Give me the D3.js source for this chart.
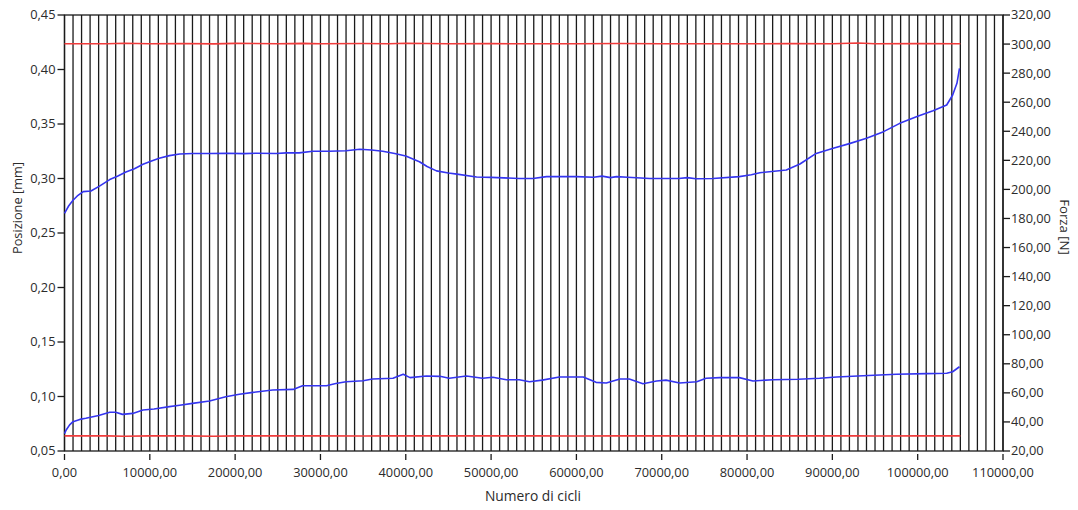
<!DOCTYPE html>
<html>
<head>
<meta charset="utf-8">
<script src="https://cdn.jsdelivr.net/npm/d3@7"></script>
<style>
  html, body { margin: 0; padding: 0; background: #fff; }
  svg { display: block; }
  text { font-family: "Open Sans", "DejaVu Sans", sans-serif; fill: #2b2b2b; }
</style>
</head>
<body>
<svg id="chart" width="1078" height="510"></svg>
<script>
// ---------- DATA ----------
const xTicks = [0, 10000, 20000, 30000, 40000, 50000, 60000, 70000, 80000, 90000, 100000, 110000];
const leftTicks = [0.05, 0.10, 0.15, 0.20, 0.25, 0.30, 0.35, 0.40, 0.45];
const rightTicks = [20, 40, 60, 80, 100, 120, 140, 160, 180, 200, 220, 240, 260, 280, 300, 320];

// Posizione max [mm]
const posMaxCycles = [0, 500, 1000, 1500, 2200, 3100, 4100, 5300, 6200, 7200, 8200, 9200, 10200, 11100, 12300, 13500, 15000, 17000, 19000, 21000, 22500, 24800, 26000, 27500, 29100, 31000, 33000, 34600, 36000, 37300, 38700, 40000, 41600, 42500, 43600, 45000, 46000, 48300, 50000, 53300, 54900, 56500, 60000, 62000, 63000, 64000, 64700, 66000, 68600, 72000, 73000, 74000, 76000, 79100, 80500, 81500, 84600, 86200, 88100, 90100, 92000, 94000, 96000, 97900, 100000, 101800, 103400, 104100, 104600, 104900];
const posMax = [0.268, 0.275, 0.280, 0.284, 0.288, 0.2885, 0.293, 0.299, 0.302, 0.306, 0.309, 0.313, 0.316, 0.3185, 0.321, 0.3225, 0.323, 0.323, 0.3232, 0.3228, 0.3232, 0.323, 0.3235, 0.3235, 0.325, 0.325, 0.3255, 0.3268, 0.3262, 0.325, 0.323, 0.3206, 0.3154, 0.311, 0.307, 0.305, 0.304, 0.3014, 0.301, 0.300, 0.300, 0.3017, 0.3017, 0.3012, 0.3022, 0.3008, 0.3017, 0.3012, 0.300, 0.300, 0.3008, 0.2998, 0.300, 0.3017, 0.3035, 0.3053, 0.3078, 0.3133, 0.323, 0.3277, 0.332, 0.3369, 0.343, 0.3506, 0.357, 0.3622, 0.3674, 0.3766, 0.3873, 0.401];

// Posizione min [mm]
const posMinCycles = [0, 200, 600, 1000, 1800, 2500, 4000, 5300, 6000, 6800, 8000, 9200, 10500, 12300, 13500, 15000, 17000, 18900, 20500, 22100, 24400, 26800, 27900, 30700, 31800, 33000, 35000, 36100, 38500, 39700, 40500, 42400, 44000, 45100, 47100, 49000, 50200, 51800, 53300, 54500, 56000, 58000, 60800, 62300, 63500, 65100, 66200, 67800, 69400, 70500, 72100, 74100, 75200, 76800, 79100, 80700, 83000, 86000, 88500, 90500, 93600, 97500, 101000, 103400, 104100, 104900];
const posMin = [0.066, 0.0693, 0.074, 0.0769, 0.079, 0.080, 0.0825, 0.0855, 0.0855, 0.0836, 0.0845, 0.0876, 0.0885, 0.0907, 0.092, 0.0937, 0.0959, 0.0998, 0.102, 0.1038, 0.106, 0.1065, 0.1099, 0.1099, 0.112, 0.1136, 0.1145, 0.116, 0.1167, 0.1204, 0.1173, 0.1188, 0.1185, 0.1167, 0.1188, 0.1167, 0.1177, 0.1154, 0.1154, 0.1136, 0.115, 0.1179, 0.1179, 0.113, 0.1124, 0.116, 0.116, 0.1117, 0.1142, 0.115, 0.1124, 0.1136, 0.1167, 0.1173, 0.1173, 0.1142, 0.1154, 0.1158, 0.1167, 0.1179, 0.1191, 0.1204, 0.121, 0.1213, 0.1227, 0.1273];

// Forza max / min [N]
const forceCycles = [0, 5000, 7000, 10000, 14000, 17500, 20000, 25000, 28000, 30000, 35000, 38000, 40000, 45000, 50000, 55000, 60000, 65000, 70000, 75000, 80000, 85000, 90000, 93000, 95000, 100000, 105000];
const forceMax = [300.2, 300.2, 300.6, 300.2, 300.4, 300.1, 300.5, 300.2, 300.5, 300.2, 300.4, 300.2, 300.6, 300.2, 300.3, 300.2, 300.2, 300.4, 300.2, 300.2, 300.2, 300.3, 300.2, 300.7, 300.2, 300.3, 300.2];
const forceMin = [30.4, 30.4, 30.2, 30.4, 30.4, 30.1, 30.4, 30.4, 30.4, 30.4, 30.3, 30.4, 30.4, 30.4, 30.4, 30.4, 30.3, 30.4, 30.4, 30.4, 30.4, 30.4, 30.4, 30.4, 30.3, 30.4, 30.4];

// ---------- CHART ----------
const svg = d3.select("#chart");
const L = 64.5, R = 1003, T = 15, B = 451;

const x = d3.scaleLinear().domain([0, 110000]).range([L, R]);
const yL = d3.scaleLinear().domain([0.05, 0.45]).range([B, T]);
const yR = d3.scaleLinear().domain([20, 320]).range([B, T]);

const fmt = d3.format(".2f");
const fmtC = v => fmt(v).replace(".", ",");

// vertical grid lines every 1000 cycles
const gridCycles = d3.range(0, 110001, 1000);
svg.append("g")
  .selectAll("line")
  .data(gridCycles)
  .join("line")
  .attr("x1", d => x(d)).attr("x2", d => x(d))
  .attr("y1", T).attr("y2", B)
  .attr("stroke", "#1a1a1a")
  .attr("stroke-width", 1.3);

// frame
svg.append("rect")
  .attr("x", L).attr("y", T)
  .attr("width", R - L).attr("height", B - T)
  .attr("fill", "none").attr("stroke", "#1a1a1a").attr("stroke-width", 1.3);

// series
function drawLine(cycles, vals, yScale, color) {
  const pts = cycles.map((c, i) => [c, vals[i]]);
  const line = d3.line().x(d => x(d[0])).y(d => yScale(d[1]));
  svg.append("path")
    .attr("d", line(pts))
    .attr("fill", "none")
    .attr("stroke", color)
    .attr("stroke-width", 1.6)
    .attr("stroke-linejoin", "round");
}
drawLine(forceCycles, forceMax, yR, "#f03c3c");
drawLine(forceCycles, forceMin, yR, "#f03c3c");
drawLine(posMaxCycles, posMax, yL, "#3535f0");
drawLine(posMinCycles, posMin, yL, "#3535f0");

const fs = "12.8px";

// x axis (offset below)
const xAxis = svg.append("g");
xAxis.selectAll("line").data(xTicks).join("line")
  .attr("x1", d => x(d)).attr("x2", d => x(d))
  .attr("y1", B + 3).attr("y2", B + 9)
  .attr("stroke", "#1a1a1a").attr("stroke-width", 1.3);
xAxis.selectAll("text").data(xTicks).join("text")
  .attr("x", d => x(d)).attr("y", B + 26)
  .attr("text-anchor", "middle")
  .style("font-size", fs)
  .text(d => fmtC(d));

// left axis
const lAxis = svg.append("g");
lAxis.selectAll("line").data(leftTicks).join("line")
  .attr("x1", L - 7).attr("x2", L)
  .attr("y1", d => yL(d)).attr("y2", d => yL(d))
  .attr("stroke", "#1a1a1a").attr("stroke-width", 1.3);
lAxis.selectAll("text").data(leftTicks).join("text")
  .attr("x", L - 9).attr("y", d => yL(d))
  .attr("dy", "0.35em")
  .attr("text-anchor", "end")
  .style("font-size", fs)
  .text(d => fmtC(d));

// right axis
const rAxis = svg.append("g");
rAxis.selectAll("line").data(rightTicks).join("line")
  .attr("x1", R).attr("x2", R + 7)
  .attr("y1", d => yR(d)).attr("y2", d => yR(d))
  .attr("stroke", "#1a1a1a").attr("stroke-width", 1.3);
rAxis.selectAll("text").data(rightTicks).join("text")
  .attr("x", R + 8).attr("y", d => yR(d))
  .attr("dy", "0.35em")
  .attr("text-anchor", "start")
  .style("font-size", fs)
  .text(d => fmtC(d));

// axis titles
svg.append("text")
  .attr("x", 533).attr("y", 501)
  .attr("text-anchor", "middle")
  .style("font-size", "13.8px")
  .text("Numero di cicli");

svg.append("text")
  .attr("transform", "translate(22,208) rotate(-90)")
  .attr("text-anchor", "middle")
  .style("font-size", fs)
  .text("Posizione [mm]");

svg.append("text")
  .attr("transform", "translate(1060,227) rotate(90)")
  .attr("text-anchor", "middle")
  .style("font-size", "13.2px")
  .text("Forza [N]");
</script>
</body>
</html>
